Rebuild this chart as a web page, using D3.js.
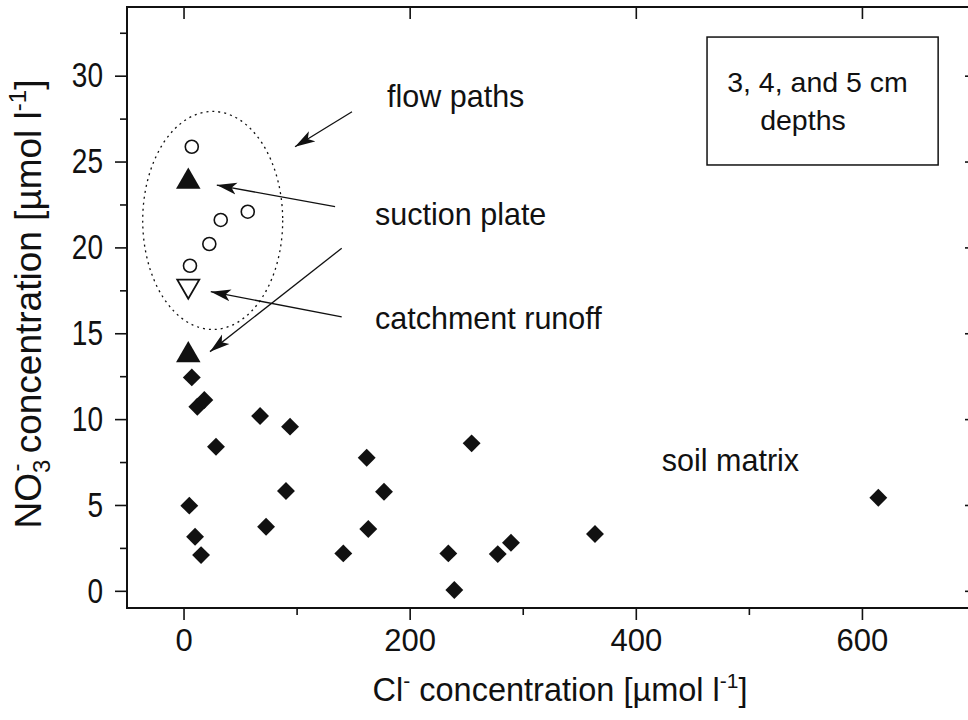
<!DOCTYPE html>
<html>
<head>
<meta charset="utf-8">
<script src="https://cdn.jsdelivr.net/npm/d3@7"></script>
<style>
  body { margin: 0; background: #fff; }
  svg { display: block; font-family: "Liberation Sans", Arial, sans-serif; }
</style>
</head>
<body>
<svg id="chart" width="968" height="720"></svg>
<script>
// soil matrix samples (Cl-, NO3-) in umol/l
var matrixCl  = [7.3, 12.2, 18.4, 28.7, 67.7, 94.2, 5.1, 10.2, 15.5, 73, 90.6, 162, 177.3, 163.4, 141.3, 234.2, 239.5, 254.8, 277.9, 289.6, 363.9, 614.5];
var matrixNO3 = [12.43, 10.72, 11.11, 8.39, 10.18, 9.56, 4.96, 3.15, 2.08, 3.73, 5.81, 7.75, 5.77, 3.6, 2.18, 2.18, 0.05, 8.59, 2.14, 2.8, 3.31, 5.42];

// flow path samples
var flowCl  = [7.3, 56.8, 32.9, 22.8, 5.7];
var flowNO3 = [25.86, 22.08, 21.6, 20.2, 18.93];

// suction plate and catchment runoff
var plateCl  = [4.2, 4.2];
var plateNO3 = [23.83, 13.73];
var runoffCl  = [4.2];
var runoffNO3 = [17.75];

var xTicksMajor = [0, 200, 400, 600];
var xTicksMinor = [100, 300, 500];
var yTicksMajor = [0, 5, 10, 15, 20, 25, 30];
var yTicksMinor = [2.5, 7.5, 12.5, 17.5, 22.5, 27.5, 32.5];

// annotation texts and arrows, in data units
var labels = [
  {text: "flow paths", x: 180, y: 28.2},
  {text: "suction plate", x: 169.4, y: 21.3},
  {text: "catchment runoff", x: 169.4, y: 15.25},
  {text: "soil matrix", x: 423, y: 7.0}
];
var arrows = [
  {x1: 149, y1: 27.9, x2: 98.6, y2: 25.86},
  {x1: 134, y1: 22.37, x2: 29.4, y2: 23.63},
  {x1: 139.9, y1: 15.96, x2: 24.1, y2: 17.42},
  {x1: 139.9, y1: 19.95, x2: 23.4, y2: 13.93}
];
var flowEllipse = {cx: 25.8, cy: 21.57, rx: 61.9, ry: 6.35};
var depthBox = {x0: 463, x1: 667.4, y0: 32.25, y1: 24.8};
var depthLines = [
  {text: "3, 4, and 5 cm", x: 480.8, y: 29.05},
  {text: "depths", x: 510, y: 26.84}
];

var svg = d3.select("#chart");
var frame = {left: 127, right: 975, top: 7, bottom: 608};

var x = d3.scaleLinear().domain([-50, 700]).range([frame.left, frame.right]);
var y = d3.scaleLinear().domain([-1, 34]).range([frame.bottom, frame.top]);

var defs = svg.append("defs");
defs.append("marker")
  .attr("id", "head")
  .attr("markerUnits", "userSpaceOnUse")
  .attr("viewBox", "0 -7 20 14")
  .attr("refX", 20).attr("refY", 0)
  .attr("markerWidth", 20).attr("markerHeight", 14)
  .attr("orient", "auto")
  .append("path")
  .attr("d", "M0,-6L20,0L0,6L5,0Z")
  .attr("fill", "#111");

// axes
var bottomAxis = svg.append("g").attr("transform", "translate(0," + frame.bottom + ")");
bottomAxis.call(d3.axisBottom(x).tickValues(xTicksMajor).tickSize(12).tickPadding(9).tickFormat(d3.format("d")));
bottomAxis.append("g").call(d3.axisBottom(x).tickValues(xTicksMinor).tickSize(7).tickFormat(""));

var leftAxis = svg.append("g").attr("transform", "translate(" + frame.left + ",0)");
leftAxis.call(d3.axisLeft(y).tickValues(yTicksMajor).tickSize(12).tickFormat(d3.format("d")));
leftAxis.append("g").call(d3.axisLeft(y).tickValues(yTicksMinor).tickSize(7).tickFormat(""));

svg.append("g").attr("transform", "translate(0," + frame.top + ")")
  .call(d3.axisBottom(x).tickValues(xTicksMajor).tickSize(12).tickFormat(""));
svg.append("g").attr("transform", "translate(" + frame.right + ",0)")
  .call(d3.axisLeft(y).tickValues(yTicksMajor).tickSize(10).tickFormat(""));

svg.selectAll(".domain").remove();
svg.selectAll(".tick line").attr("stroke", "#111").attr("stroke-width", 1.6);
bottomAxis.selectAll(".tick text").attr("font-size", 31).attr("fill", "#111");
// y labels are drawn tall and narrow
var squeeze = 0.8;
leftAxis.selectAll(".tick text")
  .attr("font-size", 35).attr("fill", "#111")
  .attr("x", -24 / squeeze)
  .attr("transform", "scale(" + squeeze + ",1)");

svg.append("rect")
  .attr("x", frame.left).attr("y", frame.top)
  .attr("width", frame.right - frame.left).attr("height", frame.bottom - frame.top)
  .attr("fill", "none").attr("stroke", "#111").attr("stroke-width", 2);

// axis titles
var xt = svg.append("text").attr("x", 560).attr("y", 701)
  .attr("text-anchor", "middle").attr("font-size", 32.5).attr("fill", "#111");
xt.append("tspan").text("Cl");
xt.append("tspan").attr("font-size", 21).attr("dy", -13).text("-");
xt.append("tspan").attr("dy", 13).text(" concentration [\u00b5mol l");
xt.append("tspan").attr("font-size", 21).attr("dy", -13).text("-1");
xt.append("tspan").attr("dy", 13).text("]");

var yt = svg.append("text")
  .attr("transform", "translate(41,304) rotate(-90)")
  .attr("text-anchor", "middle").attr("font-size", 37).attr("fill", "#111");
yt.append("tspan").text("NO");
yt.append("tspan").attr("font-size", 24).attr("dy", 9).text("3");
yt.append("tspan").attr("font-size", 24).attr("dx", -12).attr("dy", -26).text("-");
yt.append("tspan").attr("dy", 17).text(" concentration [\u00b5mol l");
yt.append("tspan").attr("font-size", 24).attr("dy", -15).text("-1");
yt.append("tspan").attr("dy", 15).text("]");

// dotted outline around the flow path samples
svg.append("ellipse")
  .attr("cx", x(flowEllipse.cx)).attr("cy", y(flowEllipse.cy))
  .attr("rx", x(flowEllipse.rx) - x(0)).attr("ry", y(0) - y(flowEllipse.ry))
  .attr("fill", "none").attr("stroke", "#111").attr("stroke-width", 1.3)
  .attr("stroke-dasharray", "2,4");

// markers
var diamond = d3.symbol(d3.symbolSquare, 160);
svg.append("g").selectAll("path")
  .data(d3.zip(matrixCl, matrixNO3))
  .enter().append("path")
  .attr("d", diamond)
  .attr("transform", function(d) { return "translate(" + x(d[0]) + "," + y(d[1]) + ") rotate(45)"; })
  .attr("fill", "#111");

svg.append("g").selectAll("circle")
  .data(d3.zip(flowCl, flowNO3))
  .enter().append("circle")
  .attr("cx", function(d) { return x(d[0]); })
  .attr("cy", function(d) { return y(d[1]); })
  .attr("r", 6.5)
  .attr("fill", "#fff").attr("stroke", "#111").attr("stroke-width", 1.6);

var tri = d3.symbol(d3.symbolTriangle, 260);
svg.append("g").selectAll("path")
  .data(d3.zip(plateCl, plateNO3))
  .enter().append("path")
  .attr("d", tri)
  .attr("transform", function(d) { return "translate(" + x(d[0]) + "," + y(d[1]) + ")"; })
  .attr("fill", "#111");

svg.append("g").selectAll("path")
  .data(d3.zip(runoffCl, runoffNO3))
  .enter().append("path")
  .attr("d", d3.symbol(d3.symbolTriangle, 210))
  .attr("transform", function(d) { return "translate(" + x(d[0]) + "," + y(d[1]) + ") rotate(180)"; })
  .attr("fill", "#fff").attr("stroke", "#111").attr("stroke-width", 1.8);

// annotations
svg.append("g").selectAll("line")
  .data(arrows)
  .enter().append("line")
  .attr("x1", function(d) { return x(d.x1); })
  .attr("y1", function(d) { return y(d.y1); })
  .attr("x2", function(d) { return x(d.x2); })
  .attr("y2", function(d) { return y(d.y2); })
  .attr("stroke", "#111").attr("stroke-width", 1.3)
  .attr("marker-end", "url(#head)");

svg.append("g").selectAll("text")
  .data(labels)
  .enter().append("text")
  .attr("x", function(d) { return x(d.x); })
  .attr("y", function(d) { return y(d.y); })
  .attr("font-size", 30.5).attr("fill", "#111")
  .text(function(d) { return d.text; });

svg.append("rect")
  .attr("x", x(depthBox.x0)).attr("y", y(depthBox.y0))
  .attr("width", x(depthBox.x1) - x(depthBox.x0))
  .attr("height", y(depthBox.y1) - y(depthBox.y0))
  .attr("fill", "none").attr("stroke", "#111").attr("stroke-width", 1.5);

svg.append("g").selectAll("text")
  .data(depthLines)
  .enter().append("text")
  .attr("x", function(d) { return x(d.x); })
  .attr("y", function(d) { return y(d.y); })
  .attr("font-size", 28.5).attr("fill", "#111")
  .text(function(d) { return d.text; });
</script>
</body>
</html>
